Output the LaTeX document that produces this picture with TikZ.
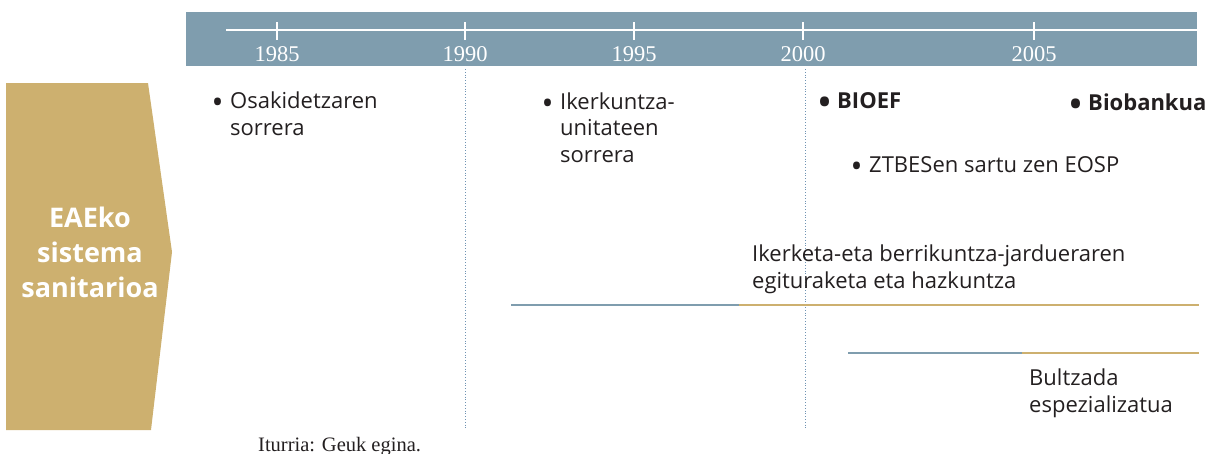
\documentclass[tikz,border=0pt]{standalone}
\usepackage{fontspec}
\setsansfont{Open Sans}
\newfontfamily\yearfont{Liberation Serif}
\definecolor{bannerblue}{HTML}{7F9DAE}
\definecolor{gold}{HTML}{CDB06F}
\definecolor{dotblue}{HTML}{6F93B3}
\definecolor{txt}{HTML}{231F20}
\tikzset{
  yearlbl/.style={text=white, font=\yearfont\fontsize{22.5}{24}\selectfont, anchor=base, inner sep=0},
  item/.style={text=txt, font=\sffamily\fontsize{22}{26.5}\selectfont, anchor=base west, inner sep=0, align=left},
  bolditem/.style={item, font=\sffamily\bfseries\fontsize{22}{26.5}\selectfont},
  guide/.style={dotblue, dotted, line width=0.8pt},
  bar/.style={line width=2.8pt},
}
\newcommand{\bul}{\llap{\raisebox{-0.24em}{\scalebox{1.45}{•}}\hspace{0.3em}}}
\begin{document}
\begin{tikzpicture}[x=1pt,y=-1pt]
\useasboundingbox (0,0) rectangle (1217,453);
% banner
\fill[bannerblue] (186,12) rectangle (1197,66);
\coordinate (axL) at (226,30);
\coordinate (axR) at (1197,30);
\draw[white, line width=1.3pt] (axL) -- (axR);
\foreach \x/\yr in {277/1985,465/1990,634/1995,803/2000,1034/2005}{
  \draw[white, line width=1.3pt] (\x,22) -- (\x,40);
  \node[yearlbl] (y\yr) at (\x,61) {\yr};
}
% guides
\coordinate (g1a) at (465,69); \coordinate (g1b) at (465,430);
\coordinate (g2a) at (805,69); \coordinate (g2b) at (805,430);
\draw[guide] (g1a) -- (g1b);
\draw[guide] (g2a) -- (g2b);
% left arrow shape
\fill[gold] (6,83) -- (148,83) -- (172,252) -- (151,430) -- (6,430) -- cycle;
\node[text=white, font=\sffamily\bfseries\fontsize{27}{35}\selectfont, align=center, anchor=base, inner sep=0] (eae) at (90,297) {EAEko\\sistema\\sanitarioa};
% items
\node[item] (osaki) at (230,135) {\bul Osakidetzaren\\sorrera};
\node[item] (iker) at (560,162) {\bul Ikerkuntza-\\unitateen\\sorrera};
\node[bolditem] (bioef) at (837,108) {\bul BIOEF};
\node[bolditem] (biob) at (1088,110) {\bul Biobankua};
\node[item] (ztb) at (869,172) {\bul ZTBESen sartu zen EOSP};
\node[item] (ikerketa) at (752,288) {Ikerketa-eta berrikuntza-jardueraren\\egituraketa eta hazkuntza};
\node[item] (bultz) at (1029,412) {Bultzada\\espezializatua};
% bars
\coordinate (b1a) at (511,305); \coordinate (b1m) at (739,305); \coordinate (b1b) at (1199,305);
\draw[bar, bannerblue] (b1a) -- (b1m);
\draw[bar, gold] (b1m) -- (b1b);
\coordinate (b2a) at (848,353); \coordinate (b2m) at (1022,353); \coordinate (b2b) at (1199,353);
\draw[bar, bannerblue] (b2a) -- (b2m);
\draw[bar, gold] (b2m) -- (b2b);
% source
\node[text=txt, font=\yearfont\fontsize{20.5}{22}\selectfont, anchor=base west, inner sep=0] (src) at (258,451) {Iturria: Geuk egina.};
\end{tikzpicture}
\end{document}
